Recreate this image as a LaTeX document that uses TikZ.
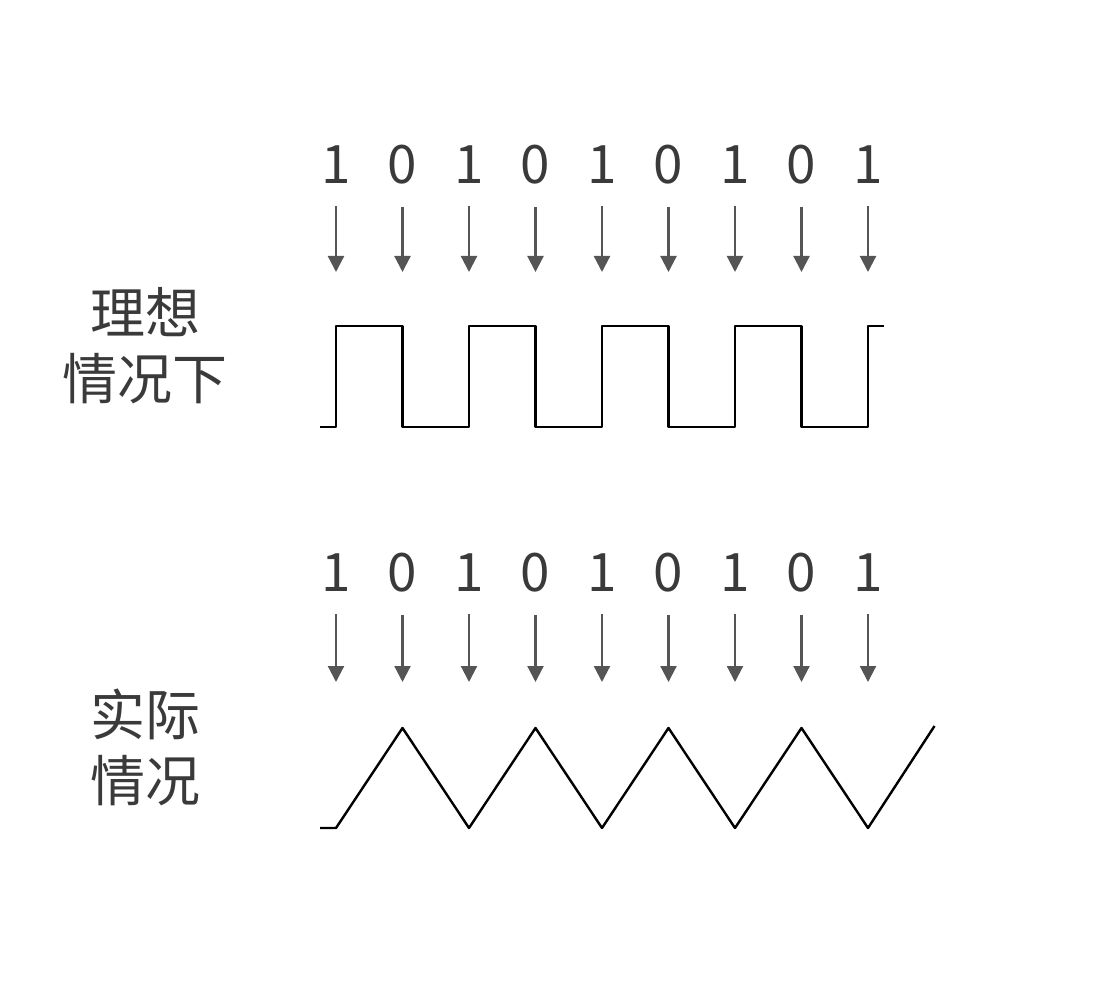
\documentclass[tikz,border=0pt]{standalone}
\usepackage{fontspec}
\setmainfont{Noto Sans CJK SC}
\usepackage{tikz}
\usetikzlibrary{arrows.meta,positioning}
\definecolor{sigtext}{RGB}{58,58,58}
\definecolor{siggray}{RGB}{85,85,85}
\tikzset{
  bit/.style={inner sep=0pt, text=sigtext, font=\fontsize{53}{60}\selectfont},
  caselabel/.style={align=center, inner sep=0pt, text=sigtext, font=\fontsize{55}{66}\selectfont},
  sample/.style={line width=2.2pt, color=siggray, -{Triangle[length=16pt,width=16pt]}},
  wave/.style={line width=2.4pt, black, line join=round}
}

\begin{document}
\begin{tikzpicture}[x=1pt, y=-1pt]
\useasboundingbox (0,0) rectangle (1095,992);

% Bits and sampling arrows
\foreach \b [count=\i] in {1,0,1,0,1,0,1,0,1} {
  \node[bit] (bitA\i) at ({336+66.5*(\i-1)},165) {\b};
  \coordinate (tipA\i) at ({336+66.5*(\i-1)},272);
  \draw[sample] ([yshift=-22pt]bitA\i.south) -- (tipA\i);
  \node[bit] (bitB\i) at ({336+66.5*(\i-1)},573) {\b};
  \coordinate (tipB\i) at ({336+66.5*(\i-1)},682);
  \draw[sample] ([yshift=-22pt]bitB\i.south) -- (tipB\i);
}

% Labels
\node[caselabel] (ideal) at (145,346) {理想\\情况下};
\node[caselabel] (real) at (145,747) {实际\\情况};

% Ideal square wave
\draw[wave] (320,427) -- (336,427) -- (336,326) -- (402.5,326) -- (402.5,427)
  -- (469,427) -- (469,326) -- (535.5,326) -- (535.5,427) -- (602,427)
  -- (602,326) -- (668.5,326) -- (668.5,427) -- (735,427) -- (735,326)
  -- (801.5,326) -- (801.5,427) -- (868,427) -- (868,326) -- (884,326);

% Real triangle wave
\draw[wave] (320,828) -- (336,828) -- (402.5,728) -- (469,828) -- (535.5,728)
  -- (602,828) -- (668.5,728) -- (735,828) -- (801.5,728) -- (868,828)
  -- (934.5,726);
\end{tikzpicture}
\end{document}
